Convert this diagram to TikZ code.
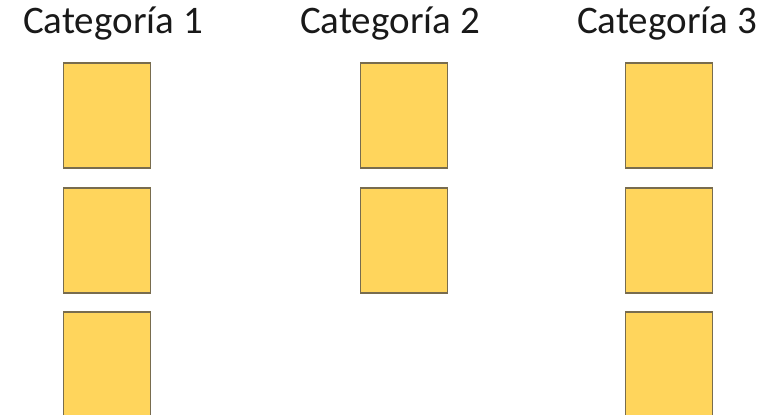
\documentclass[tikz,border=0pt]{standalone}
\usepackage{fontspec}
\setmainfont{Carlito}
\definecolor{boxfill}{RGB}{255,213,92}
\definecolor{boxline}{RGB}{120,108,78}
\definecolor{txt}{RGB}{25,25,25}
\begin{document}
\begin{tikzpicture}[x=1pt,y=-1pt,
  box/.style={draw=boxline,fill=boxfill,line width=1.6pt,inner sep=0pt,
    minimum width=87pt,minimum height=105pt},
  tallbox/.style={box,minimum height=110pt},
  cat/.style={anchor=base,inner sep=0pt,text=txt,font=\fontsize{39}{42}\selectfont}]
\useasboundingbox (0,0) rectangle (774,415);
\node[cat] (t1) at (113,33) {Categoría 1};
\node[cat] (t2) at (390,33) {Categoría 2};
\node[cat] (t3) at (667,33) {Categoría 3};
\node[box] (a1) at (107,115.5) {};
\node[box] (a2) at (107,240.5) {};
\node[tallbox] (a3) at (107,367) {};
\node[box] (b1) at (404,115.5) {};
\node[box] (b2) at (404,240.5) {};
\node[box] (c1) at (669,115.5) {};
\node[box] (c2) at (669,240.5) {};
\node[tallbox] (c3) at (669,367) {};
\end{tikzpicture}
\end{document}
